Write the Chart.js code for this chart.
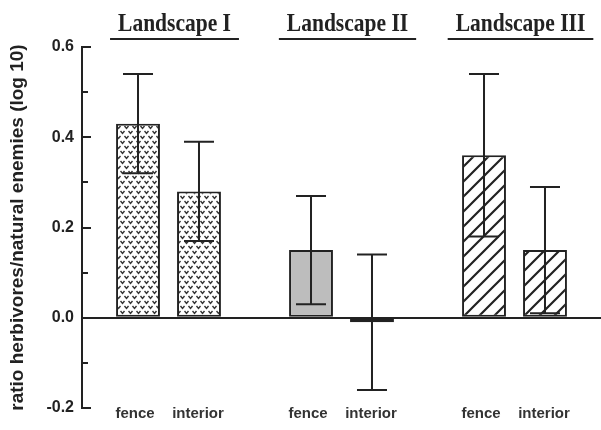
<!DOCTYPE html>
<html>
<head>
<meta charset="utf-8">
<script src="https://cdn.jsdelivr.net/npm/chart.js@4"></script>
<style>
  html, body { margin: 0; padding: 0; background: #fff; }
  canvas { display: block; }
</style>
</head>
<body>
<canvas id="chart" width="601" height="430"></canvas>
<script>
// herbivore / natural enemy ratio per landscape, fence vs interior
const groupLabels = ['Landscape I', 'Landscape II', 'Landscape III'];
const barLabels = ['fence', 'interior'];

const fenceMean = [0.43, 0.15, 0.36];
const fenceLow = [0.32, 0.03, 0.18];
const fenceHigh = [0.54, 0.27, 0.54];

const interiorMean = [0.28, -0.01, 0.15];
const interiorLow = [0.17, -0.16, 0.01];
const interiorHigh = [0.39, 0.14, 0.29];

const yMin = -0.2;
const yMax = 0.6;
const yStep = 0.1;

const INK = '#222';

// Helper: small "v" mark pattern used for Landscape I
function makeDotPattern() {
  const c = document.createElement('canvas');
  c.width = 8; c.height = 10;
  const g = c.getContext('2d');
  g.fillStyle = '#fff';
  g.fillRect(0, 0, 8, 10);
  g.strokeStyle = '#333';
  g.lineWidth = 1.4;
  const mark = (x, y) => {
    g.beginPath();
    g.moveTo(x, y);
    g.lineTo(x + 2, y + 2.5);
    g.lineTo(x + 4, y);
    g.stroke();
  };
  mark(0.5, 1);
  mark(4.5, 6);
  mark(-3.5, 6);
  return g.createPattern(c, 'repeat');
}

// Helper: "/" hatching used for Landscape III
function makeHatchPattern() {
  const s = 15;
  const c = document.createElement('canvas');
  c.width = s; c.height = s;
  const g = c.getContext('2d');
  g.fillStyle = '#fff';
  g.fillRect(0, 0, s, s);
  g.strokeStyle = '#222';
  g.lineWidth = 2.2;
  g.beginPath();
  g.moveTo(-2, s + 2); g.lineTo(s + 2, -2);
  g.moveTo(-2, 2); g.lineTo(2, -2);
  g.moveTo(s - 2, s + 2); g.lineTo(s + 2, s - 2);
  g.stroke();
  return g.createPattern(c, 'repeat');
}

const fills = [makeDotPattern(), '#bdbdbd', makeHatchPattern()];

const errorBars = [
  { low: fenceLow, high: fenceHigh },
  { low: interiorLow, high: interiorHigh }
];

// inward y ticks, error bars, group headers, bar labels
const decorations = {
  id: 'decorations',
  afterDatasetsDraw(chart) {
    const ctx = chart.ctx;
    const y = chart.scales.y;
    const area = chart.chartArea;

    ctx.save();
    ctx.strokeStyle = INK;
    ctx.lineWidth = 2;

    y.ticks.forEach(t => {
      if (Math.abs(t.value) < 1e-9) return;
      const py = Math.round(y.getPixelForValue(t.value));
      const major = Math.round(t.value * 10) % 2 === 0;
      ctx.beginPath();
      ctx.moveTo(area.left, py);
      ctx.lineTo(area.left + (major ? 9 : 6), py);
      ctx.stroke();
    });

    errorBars.forEach((err, i) => {
      const meta = chart.getDatasetMeta(i);
      meta.data.forEach((bar, j) => {
        const top = y.getPixelForValue(err.high[j]);
        const bottom = y.getPixelForValue(err.low[j]);
        ctx.beginPath();
        ctx.moveTo(bar.x, top);
        ctx.lineTo(bar.x, bottom);
        ctx.moveTo(bar.x - 15, top);
        ctx.lineTo(bar.x + 15, top);
        ctx.moveTo(bar.x - 15, bottom);
        ctx.lineTo(bar.x + 15, bottom);
        ctx.stroke();
      });
    });

    // bar labels under the plot
    ctx.fillStyle = '#333';
    ctx.font = 'bold 15px "Liberation Sans", Arial, sans-serif';
    ctx.textAlign = 'center';
    ctx.textBaseline = 'middle';
    barLabels.forEach((lbl, i) => {
      chart.getDatasetMeta(i).data.forEach(bar => {
        ctx.fillText(lbl, bar.x - (i === 0 ? 3 : 1), area.bottom + 6);
      });
    });

    // landscape headers, serif, slightly condensed
    const x = chart.scales.x;
    ctx.fillStyle = INK;
    ctx.font = 'bold 25px "Liberation Serif", "Times New Roman", serif';
    ctx.textBaseline = 'alphabetic';
    const squeeze = 0.86;
    groupLabels.forEach((lbl, i) => {
      const cx = x.getPixelForValue(i) + 6;
      const w = ctx.measureText(lbl).width * squeeze;
      ctx.save();
      ctx.translate(cx, area.top - 16);
      ctx.scale(squeeze, 1);
      ctx.fillText(lbl, 0, 0);
      ctx.restore();
      ctx.beginPath();
      ctx.moveTo(cx - w / 2 - 8, area.top - 8);
      ctx.lineTo(cx + w / 2 + 8, area.top - 8);
      ctx.stroke();
    });

    ctx.restore();
  }
};

new Chart(document.getElementById('chart'), {
  type: 'bar',
  data: {
    labels: groupLabels,
    datasets: [
      {
        label: barLabels[0],
        data: fenceMean,
        backgroundColor: fills,
        borderColor: INK,
        borderWidth: 2,
        borderSkipped: false
      },
      {
        label: barLabels[1],
        data: interiorMean,
        backgroundColor: fills,
        borderColor: INK,
        borderWidth: 2,
        borderSkipped: false
      }
    ]
  },
  options: {
    responsive: false,
    animation: false,
    devicePixelRatio: 1,
    categoryPercentage: 0.705,
    barPercentage: 0.72,
    layout: { padding: { top: 47, bottom: 22, left: 0, right: 0 } },
    plugins: {
      legend: { display: false },
      tooltip: { enabled: false }
    },
    scales: {
      x: { display: false },
      y: {
        min: yMin,
        max: yMax,
        afterFit: scale => { scale.width = 82; },
        ticks: {
          stepSize: yStep,
          padding: 8,
          color: INK,
          font: { family: '"Liberation Sans", Arial, sans-serif', size: 16, weight: 'bold' },
          callback: v => (Math.round(v * 10) % 2 === 0 ? v.toFixed(1) : '')
        },
        grid: {
          drawTicks: false,
          lineWidth: 2,
          color: c => (Math.abs(c.tick.value) < 1e-9 ? INK : 'rgba(0,0,0,0)')
        },
        border: { display: true, color: INK, width: 2 },
        title: {
          display: true,
          text: 'ratio herbivores/natural enemies (log 10)',
          color: INK,
          padding: { top: 6, bottom: 0 },
          font: { family: '"Liberation Sans", Arial, sans-serif', size: 19, weight: 'bold' }
        }
      }
    }
  },
  plugins: [decorations]
});
</script>
</body>
</html>
